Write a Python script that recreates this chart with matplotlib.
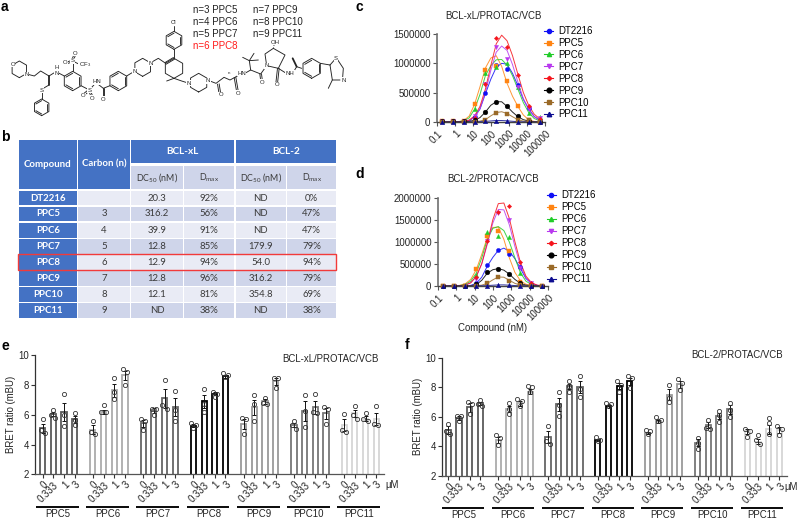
import numpy as np
import matplotlib
matplotlib.use("Agg")
import matplotlib.pyplot as plt
from matplotlib.lines import Line2D
from matplotlib.patches import Rectangle

plt.rcParams['font.family'] = ['Liberation Sans', 'DejaVu Sans']
plt.rcParams['mathtext.default'] = 'regular'
W, H = 800, 520
FS = 6.9

# ---------- DATA ----------
series = ['DT2216', 'PPC5', 'PPC6', 'PPC7', 'PPC8', 'PPC9', 'PPC10', 'PPC11']
conc = [0.19, 0.76, 3.05, 12.2, 48.8, 195, 781, 3125, 12500, 50000]
fit_conc = [0.19, 0.38, 0.76, 1.5, 3.05, 6.1, 12.2, 24.4, 48.8, 97.7, 195, 391, 781, 1563, 3125, 6250, 12500, 25000, 50000]
decade_ticks = [0.1, 1, 10, 100, 1000, 10000, 100000]
decade_labels = ['0.1', '1', '10', '100', '1000', '10000', '100000']

# Alpha signal, thousands
c_points = {
    'DT2216': [15, 20, 20, 90, 500, 965, 900, 625, 235, 30],
    'PPC5': [10, 15, 20, 300, 890, 950, 700, 280, 40, 5],
    'PPC6': [10, 15, 15, 230, 830, 940, 1000, 590, 150, 80],
    'PPC7': [10, 10, 15, 100, 650, 1280, 1080, 600, 220, 60],
    'PPC8': [10, 10, 10, 70, 650, 1440, 1280, 800, 270, 50],
    'PPC9': [10, 15, 15, 30, 170, 340, 265, 100, 10, 5],
    'PPC10': [5, 5, 5, 5, 35, 150, 140, 40, 40, 5],
    'PPC11': [5, 5, 5, 5, 10, 25, 20, 5, 5, 5],
}
c_fit = {
    'DT2216': [0, 0, 1, 3, 5, 15, 90, 220, 480, 730, 930, 1000, 985, 830, 620, 385, 225, 95, 35],
    'PPC5': [0, 0, 1, 5, 25, 100, 300, 600, 920, 1090, 1130, 950, 660, 440, 265, 120, 35, 10, 2],
    'PPC6': [0, 0, 1, 5, 20, 70, 220, 470, 790, 960, 1060, 1065, 970, 790, 560, 330, 160, 60, 20],
    'PPC7': [0, 0, 1, 3, 5, 25, 85, 225, 500, 880, 1190, 1295, 1220, 980, 680, 400, 210, 90, 30],
    'PPC8': [0, 0, 1, 5, 7, 33, 104, 266, 562, 962, 1332, 1480, 1384, 1132, 814, 503, 281, 133, 56],
    'PPC9': [0, 0, 1, 2, 4, 10, 30, 75, 170, 285, 345, 345, 265, 170, 90, 40, 15, 5, 2],
    'PPC10': [0, 0, 0, 0, 1, 2, 5, 15, 40, 105, 160, 175, 145, 90, 40, 15, 5, 2, 1],
    'PPC11': [0, 0, 0, 0, 0, 1, 2, 5, 10, 18, 25, 25, 20, 12, 6, 3, 1, 0, 0],
}
d_points = {
    'DT2216': [5, 5, 5, 70, 485, 820, 735, 425, 45, 5],
    'PPC5': [5, 5, 10, 385, 1135, 1255, 800, 85, 5, 5],
    'PPC6': [5, 5, 10, 250, 1235, 1145, 1105, 290, 40, 5],
    'PPC7': [5, 5, 10, 150, 1030, 1670, 1500, 420, 60, 5],
    'PPC8': [5, 5, 10, 210, 1030, 1675, 1825, 535, 60, 10],
    'PPC9': [5, 5, 5, 45, 325, 395, 275, 60, 10, 5],
    'PPC10': [5, 5, 5, 8, 60, 205, 120, 15, 5, 5],
    'PPC11': [5, 5, 5, 5, 10, 25, 15, 5, 5, 5],
}
d_fit = {
    'DT2216': [0, 0, 1, 2, 5, 15, 60, 200, 450, 650, 810, 860, 790, 620, 400, 170, 60, 15, 3],
    'PPC5': [0, 1, 4, 14, 50, 150, 370, 720, 1100, 1330, 1340, 1060, 640, 310, 120, 40, 10, 2, 0],
    'PPC6': [0, 1, 3, 10, 35, 110, 290, 640, 1060, 1310, 1350, 1260, 1000, 640, 300, 110, 35, 8, 2],
    'PPC7': [0, 0, 1, 4, 20, 75, 215, 500, 950, 1430, 1740, 1730, 1390, 900, 465, 190, 60, 16, 3],
    'PPC8': [0, 0, 1, 4, 19, 73, 216, 510, 975, 1505, 1872, 1886, 1534, 1009, 537, 224, 77, 21, 4],
    'PPC9': [0, 0, 0, 1, 2, 6, 30, 130, 290, 370, 395, 360, 270, 150, 60, 20, 6, 1, 0],
    'PPC10': [0, 0, 0, 0, 1, 3, 8, 20, 60, 140, 205, 200, 130, 60, 20, 6, 2, 0, 0],
    'PPC11': [0, 0, 0, 0, 0, 1, 2, 5, 10, 18, 25, 25, 18, 10, 5, 2, 1, 0, 0],
}

groups = ['PPC5', 'PPC6', 'PPC7', 'PPC8', 'PPC9', 'PPC10', 'PPC11']
doses = ['0', '0.333', '1', '3']
e_means = [[5.1, 6.05, 6.2, 5.7], [5.0, 6.2, 7.65, 8.65], [5.43, 6.3, 7.1, 6.5], [5.25, 6.9, 7.4, 8.6],
           [5.4, 6.5, 6.9, 8.25], [5.3, 6.25, 6.5, 6.1], [5.3, 6.1, 5.75, 5.7]]
e_errs = [[.3, .15, .6, .25], [.3, .15, .45, .3], [.25, .15, .65, .6], [.1, .45, .1, .1],
          [.35, .5, .15, .25], [.15, .65, .45, .35], [.4, .25, .15, .4]]
e_reps = [
    [[5.7, 5.0, 4.75], [6.3, 6.0, 5.8], [7.4, 6.0, 5.25], [6.15, 5.65, 5.3]],
    [[5.55, 4.85, 4.7], [6.65, 6.2, 6.2], [8.45, 7.55, 7.05], [9.05, 8.85, 8.0]],
    [[5.75, 5.6, 4.95], [6.4, 6.4, 6.0], [8.35, 6.65, 6.4], [7.6, 6.3, 5.6]],
    [[5.45, 5.3, 5.1], [7.75, 6.7, 6.2], [7.5, 7.4, 7.2], [8.8, 8.7, 8.55]],
    [[5.8, 5.75, 4.7], [7.3, 6.7, 5.55], [7.15, 6.8, 6.7], [8.5, 8.45, 7.8]],
    [[5.6, 5.3, 5.05], [7.35, 6.25, 5.15], [7.4, 6.2, 6.1], [6.55, 6.4, 5.4]],
    [[6.05, 5.0, 4.85], [6.6, 6.0, 5.75], [6.1, 5.75, 5.6], [6.6, 5.4, 5.3]],
]
f_means = [[5.1, 5.9, 6.65, 6.9], [4.4, 6.5, 6.9, 7.7], [4.6, 6.85, 8.05, 8.0], [4.45, 6.7, 8.1, 8.4],
           [4.9, 5.7, 7.5, 8.2], [4.25, 5.45, 6.05, 6.5], [5.0, 4.3, 5.15, 5.1]]
f_errs = [[.25, .15, .3, .12], [.2, .2, .15, .15], [.4, .45, .2, .4], [.07, .1, .2, .25],
          [.07, .1, .35, .25], [.25, .2, .22, .3], [.15, .17, .3, .18]]
f_reps = [
    [[5.5, 5.05, 4.85], [6.05, 6.05, 5.7], [7.0, 6.85, 6.15], [7.15, 6.85, 6.75]],
    [[4.75, 4.55, 4.05], [6.9, 6.55, 6.2], [7.2, 7.05, 6.75], [8.05, 8.0, 7.65]],
    [[5.4, 4.35, 4.15], [7.65, 6.8, 6.05], [8.4, 8.05, 7.7], [8.75, 7.9, 7.35]],
    [[4.6, 4.45, 4.35], [6.95, 6.85, 6.7], [8.4, 8.15, 7.7], [8.75, 8.6, 7.95]],
    [[5.1, 5.0, 4.85], [6.0, 5.75, 5.7], [8.15, 7.3, 7.0], [8.55, 8.3, 7.8]],
    [[4.55, 4.25, 3.8], [5.8, 5.25, 5.15], [6.4, 6.1, 5.65], [6.95, 6.45, 5.95]],
    [[5.15, 5.0, 4.65], [4.75, 4.4, 4.15], [5.9, 5.55, 4.85], [5.4, 5.2, 4.75]],
]

table_compounds = ['DT2216', 'PPC5', 'PPC6', 'PPC7', 'PPC8', 'PPC9', 'PPC10', 'PPC11']
table_carbon = ['', '3', '4', '5', '6', '7', '8', '9']
table_xl_dc50 = ['20.3', '316.2', '39.9', '12.8', '12.9', '12.8', '12.1', 'ND']
table_xl_dmax = ['92%', '56%', '91%', '85%', '94%', '96%', '81%', '38%']
table_2_dc50 = ['ND', 'ND', 'ND', '179.9', '54.0', '316.2', '354.8', 'ND']
table_2_dmax = ['0%', '47%', '47%', '79%', '94%', '79%', '69%', '38%']

# ---------- STYLE ----------
colors = {'DT2216': '#1010f5', 'PPC5': '#ff8412', 'PPC6': '#20cc28', 'PPC7': '#b838ee',
          'PPC8': '#f5141c', 'PPC9': '#000000', 'PPC10': '#9a6a28', 'PPC11': '#0c0c90'}
markers = {'DT2216': 'o', 'PPC5': 's', 'PPC6': '^', 'PPC7': 'v', 'PPC8': 'D', 'PPC9': 'o', 'PPC10': 's', 'PPC11': '^'}
msizes = {'DT2216': 3.0, 'PPC5': 3.2, 'PPC6': 3.0, 'PPC7': 3.0, 'PPC8': 2.2, 'PPC9': 3.4, 'PPC10': 3.4, 'PPC11': 3.2}
bar_edges = ['#5a5a5a', '#ababab', '#666666', '#000000', '#9a9a9a', '#767676', '#d6d6d6']

fig = plt.figure(figsize=(W / 100, H / 100), dpi=100, facecolor='white')


def axpx(l, t, r, b, **kw):
    return fig.add_axes([l / W, 1 - b / H, (r - l) / W, (b - t) / H], **kw)


ov = axpx(0, 0, W, H)
ov.set_xlim(0, W)
ov.set_ylim(H, 0)
ov.axis('off')
ov.set_zorder(5)
ov.patch.set_alpha(0)

# panel letters
for s, x, y in [('a', 1, 7), ('b', 1, 137), ('c', 355, 7), ('d', 355, 174), ('e', 1, 346), ('f', 405, 345)]:
    ov.text(x, y, s, fontsize=10, fontweight='bold', va='center', ha='left', color='black')

# ---------- PANEL a : structure ----------
BOND = dict(color='#222222', lw=0.65, solid_capstyle='round')


def z(p):
    return p[0] / 3, p[1] / 3


def bond(*pts, **kw):
    st = dict(BOND)
    st.update(kw)
    xs, ys = zip(*[z(p) for p in pts])
    ov.plot(xs, ys, **st)


def dbl(a, b, off=5):
    a, b = np.array(a, float), np.array(b, float)
    n = np.array([-(b - a)[1], (b - a)[0]])
    n = n / np.hypot(*n) * off / 2
    bond(a + n, b + n)
    bond(a - n, b - n)


def hexring(cx, cy, r, aromatic=False, rot=90):
    ang = np.radians(rot + 60 * np.arange(7))
    px = np.c_[cx + r * np.cos(ang), cy + r * np.sin(ang)]
    bond(*px)
    if aromatic:
        for i in (0, 2, 4):
            a = px[i] + (np.array([cx, cy]) - px[i]) * 0.2
            b = px[i + 1] + (np.array([cx, cy]) - px[i + 1]) * 0.2
            bond(a, b)
    return px


def atom(x, y, s, fs=4.3, color='#222222'):
    ov.text(x / 3, y / 3, s, fontsize=fs, ha='center', va='center', color=color, zorder=6,
            bbox=dict(fc='white', ec='none', pad=0.25))


hexring(58, 208, 25)
bond((80, 222), (103, 228), (122, 213), (147, 228))
bond((147, 228), (147, 255), lw=1.3)
bond((147, 255), (125, 268))
bond((125, 272), (125, 298))
hexring(125, 322, 25, True)
bond((147, 228), (168, 215), (193, 228))
hexring(218, 243, 29, True)
bond((218, 214), (218, 185))
dbl((218, 180), (226, 160))
dbl((218, 183), (196, 190))
bond((218, 183), (238, 193))
bond((243, 257), (268, 270))
dbl((268, 270), (250, 285))
dbl((268, 270), (277, 293))
bond((268, 270), (288, 248), (310, 265))
dbl((310, 265), (310, 295))
bond((310, 265), (330, 257))
hexring(355, 243, 29, True)
bond((380, 228), (403, 214))
hexring(428, 202, 27)
bond((452, 188), (475, 175), (497, 190))
px = hexring(522, 205, 30)
dbl((497, 190), (522, 175), 6)
bond((522, 175), (522, 148))
hexring(522, 121, 27, True)
bond((522, 94), (522, 78))
bond((522, 235), (500, 243))
bond((522, 235), (545, 243), (567, 250))
hexring(596, 248, 28)
bond((622, 240), (648, 250), (672, 232), (690, 240), (705, 232), (725, 220))
dbl((655, 252), (660, 283))
dbl((705, 232), (713, 278))
bond((738, 218), (752, 210), (782, 222), (800, 197))
dbl((782, 222), (785, 245))
bond((752, 210), (748, 182))
bond((748, 182), (728, 172))
bond((748, 182), (762, 160))
bond((748, 182), (775, 180))
bond((800, 197), (795, 162), (820, 145), (855, 165), (835, 205), (800, 197))
bond((820, 145), (823, 132), ls=':')
bond((835, 205), (862, 222))
dbl((835, 205), (830, 250))
bond((878, 220), (890, 200), (905, 205))
bond((890, 200), (878, 175), lw=1.3)
hexring(935, 205, 30, True)
bond((961, 190), (990, 195))
bond((990, 195), (1005, 178))
bond((1012, 178), (1030, 205), (1028, 232))
bond((1020, 240), (997, 240), (990, 195))
bond((997, 240), (985, 265))
for x, y, s in [(38, 193, 'O'), (80, 224, 'N'), (125, 270, 'S'), (170, 212, 'H\nN'), (218, 183, 'S'),
                (226, 160, 'O'), (196, 188, 'O'), (254, 194, 'CF$_3$'), (268, 270, 'S'), (250, 287, 'O'),
                (277, 295, 'O'), (290, 245, 'HN'), (310, 298, 'O'), (403, 214, 'N'), (452, 190, 'N'),
                (522, 68, 'Cl'), (567, 250, 'N'), (624, 243, 'N'), (662, 285, 'O'), (713, 280, 'O'),
                (725, 220, 'HN'), (785, 246, 'O'), (800, 197, 'N'), (825, 127, 'OH'), (830, 254, 'O'),
                (870, 220, 'NH'), (1008, 175, 'S'), (1030, 240, 'N')]:
    atom(x, y, s)
atom(688, 220, 'n', fs=3.2)
for s, x, y, c in [('n=3 PPC5', 193, 10, '#222222'), ('n=4 PPC6', 193, 22, '#222222'),
                   ('n=5 PPC7', 193, 34, '#222222'), ('n=6 PPC8', 193, 45.7, '#ff1a1a'),
                   ('n=7 PPC9', 253.3, 10, '#222222'), ('n=8 PPC10', 253.3, 22, '#222222'),
                   ('n=9 PPC11', 253.3, 34, '#222222')]:
    ov.text(x, y, s, fontsize=7, color=c, va='center', ha='left')

# ---------- PANEL b : table ----------
TF = ['Lato', 'DejaVu Sans']
BLUE, DARK, LIGHT = '#4472c4', '#cfd5ea', '#e9ebf5'
col_x = [18.3, 77.3, 130.7, 183.3, 235, 286.7, 336.7]
row_y = [190.7, 206, 222, 238.3, 254.3, 270.3, 286.3, 302.3, 318.3]
GAP = 0.6


def cell(x0, x1, y0, y1, fc, s='', color='#3a3a3a', weight='normal', fs=6.9):
    ov.add_patch(Rectangle((x0 + GAP, y0 + GAP), x1 - x0 - 2 * GAP, y1 - y0 - 2 * GAP, fc=fc, ec='none', zorder=1))
    if s:
        ov.text((x0 + x1) / 2, (y0 + y1) / 2, s, ha='center', va='center', fontsize=fs, color=color,
                fontweight=weight, family=TF, zorder=3)


cell(col_x[0], col_x[1], 139.3, 189.3, BLUE, 'Compound', 'white', 'bold')
cell(col_x[1], col_x[2], 139.3, 189.3, BLUE, 'Carbon (n)', 'white', 'bold')
cell(col_x[2], col_x[4], 139.3, 163.3, BLUE, 'BCL-xL', 'white', 'bold', 7.2)
cell(col_x[4], col_x[6], 139.3, 163.3, BLUE, 'BCL-2', 'white', 'bold', 7.2)
sub_labels = ['DC$_{50}$ (nM)', 'D$_{max}$', 'DC$_{50}$ (nM)', 'D$_{max}$']
for j, s in enumerate(sub_labels):
    cell(col_x[j + 2], col_x[j + 3], 165.7, 189.3, DARK, s, '#3a3a3a', 'normal', 6.4)
for i, name in enumerate(table_compounds):
    y0, y1 = row_y[i], row_y[i + 1]
    fc = LIGHT if i % 2 == 0 else DARK
    cell(col_x[0], col_x[1], y0, y1, BLUE, name, 'white', 'bold')
    values = [table_carbon[i], table_xl_dc50[i], table_xl_dmax[i], table_2_dc50[i], table_2_dmax[i]]
    for j, v in enumerate(values):
        cell(col_x[j + 1], col_x[j + 2], y0, y1, fc, v)
ov.add_patch(Rectangle((18.3, 254), 317.7, 16, fc='none', ec='#f23a3a', lw=1.0, zorder=4))


# ---------- PANELS c, d ----------
def dose_panel(box, points, fit, ymax, yt, ytl, title, title_xy, leg_xy, lblspc):
    ax = axpx(*box)
    for name in series:
        col = colors[name]
        ax.plot(fit_conc, np.array(fit[name]) * 1000, color=col, lw=0.7, alpha=0.85, zorder=2)
        ax.plot(conc, np.array(points[name]) * 1000, ls='none', marker=markers[name], ms=msizes[name],
                mfc=col, mec=col, mew=0.3, clip_on=False, zorder=3)
    ax.set_xscale('log')
    ax.set_xlim(0.1, 100000)
    ax.set_ylim(0, ymax)
    ax.minorticks_off()
    ax.set_xticks(decade_ticks)
    ax.set_xticklabels(decade_labels, rotation=45, ha='right', rotation_mode='anchor', fontsize=FS)
    ax.set_yticks(yt)
    ax.set_yticklabels(ytl, fontsize=FS)
    ax.tick_params(axis='both', length=3.2, width=0.8, color='#555555', pad=1.5, labelcolor='#222222')
    for sp in ('top', 'right'):
        ax.spines[sp].set_visible(False)
    ax.spines['left'].set_linewidth(1.2)
    ax.spines['left'].set_color('#707070')
    ax.spines['bottom'].set_linewidth(1.0)
    ax.spines['bottom'].set_color('#444444')
    ax.patch.set_alpha(0)
    handles = [Line2D([], [], color=colors[n], lw=0.8, marker=markers[n], ms=msizes[n], mec=colors[n]) for n in series]
    ax.legend(handles, series, loc='upper left', bbox_to_anchor=(leg_xy[0] / W, 1 - leg_xy[1] / H),
              bbox_transform=fig.transFigure, frameon=False, fontsize=FS, borderpad=0, borderaxespad=0,
              handlelength=0.95, handletextpad=0.55, labelspacing=lblspc)
    ov.text(title_xy[0], title_xy[1], title, fontsize=FS, ha='center', va='center', color='#222222')
    return ax


dose_panel((437, 34, 545, 122), c_points, c_fit, 1500000, [0, 500000, 1000000, 1500000],
           ['0', '500000', '1000000', '1500000'], 'BCL-xL/PROTAC/VCB', (493, 16), (544, 26), 0.2)
dose_panel((438, 198, 548, 286), d_points, d_fit, 2000000, [0, 500000, 1000000, 1500000, 2000000],
           ['0', '500000', '1000000', '1500000', '2000000'], 'BCL-2/PROTAC/VCB', (493, 179), (546.5, 190.5), 0.2)
ov.text(493, 328, 'Compound (nM)', fontsize=FS, ha='center', va='center', color='#222222')


# ---------- PANELS e, f ----------
def bret_panel(box, means, errs, reps, gstep, xl, uline, title, title_xy, um_xy):
    ax = axpx(*box)
    for g, name in enumerate(groups):
        xs = g * gstep + np.arange(4)
        ec = bar_edges[g]
        ax.bar(xs, means[g], width=0.48, fc='white', ec=ec, lw=1.3, zorder=2)
        ax.errorbar(xs, means[g], yerr=errs[g], fmt='none', ecolor='#111111', elinewidth=0.7,
                    capsize=1.5, capthick=0.7, zorder=3)
        for x, rr in zip(xs, reps[g]):
            rr = np.array(rr)
            off = np.zeros(3)
            if rr[0] - rr[1] < 0.28:
                off[:2] = -0.2, 0.2
            elif rr[1] - rr[2] < 0.28:
                off[1:] = -0.2, 0.2
            ax.plot(x + off, rr, ls='none', marker='o', ms=3.0, mfc='none', mec='#333333', mew=0.6,
                    clip_on=False, zorder=4)
        tr = ax.get_xaxis_transform()
        ax.plot([xs[0] + uline[0], xs[3] + uline[1]], [-0.272, -0.272], color='black', lw=1.35, transform=tr,
                clip_on=False, solid_capstyle='butt')
        ax.text((xs[0] + xs[3]) / 2 - 0.1, -0.335, name, transform=tr, fontsize=FS, ha='center', va='center',
                color='#222222')
    ticks = np.concatenate([g * gstep + np.arange(4) for g in range(len(groups))])
    ax.set_xticks(ticks)
    ax.set_xticklabels(doses * len(groups), rotation=45, ha='right', rotation_mode='anchor', fontsize=FS)
    ax.set_xlim(*xl)
    ax.set_ylim(2, 10)
    ax.set_yticks([2, 4, 6, 8, 10])
    ax.tick_params(axis='both', length=2.6, width=0.8, color='#333333', pad=1.5, labelsize=FS, labelcolor='#222222')
    ax.set_ylabel('BRET ratio (mBU)', fontsize=FS, labelpad=1.5, color='#222222')
    for sp in ('top', 'right'):
        ax.spines[sp].set_visible(False)
    ax.spines['left'].set_linewidth(0.9)
    ax.spines['left'].set_color('#333333')
    ax.spines['bottom'].set_linewidth(0.9)
    ax.spines['bottom'].set_color('#555555')
    ax.patch.set_alpha(0)
    ov.text(title_xy[0], title_xy[1], title, fontsize=FS, ha='center', va='center', color='#222222')
    ov.text(um_xy[0], um_xy[1], '\u03bcM', fontsize=FS, ha='center', va='center', color='#222222')
    return ax


bret_panel((35, 355.3, 384, 474.3), e_means, e_errs, e_reps, 4.71, (-0.72, 31.99), (-0.63, 0.375),
           'BCL-xL/PROTAC/VCB', (330, 359), (392, 485))
bret_panel((441.7, 357.7, 786.7, 475.7), f_means, f_errs, f_reps, 4.67, (-0.62, 31.7), (-0.59, 0.34),
           'BCL-2/PROTAC/VCB', (737, 355), (791, 487))

fig.savefig('out.png', dpi=100, facecolor='white')
